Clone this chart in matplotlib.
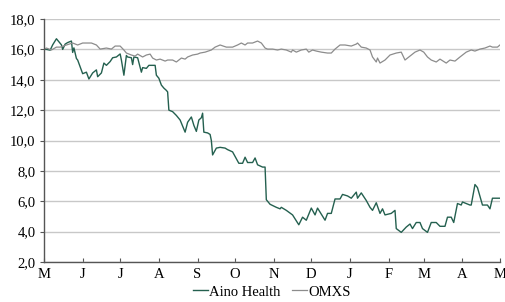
import numpy as np
import pandas as pd
import matplotlib
matplotlib.use("Agg")
import matplotlib.pyplot as plt
import matplotlib.dates as mdates
from matplotlib.ticker import FuncFormatter

start = pd.Timestamp("2022-05-01")
end = pd.Timestamp("2023-05-01")

# days after start, share price
aino_days = [0, 2, 5, 7, 10, 14, 15, 17, 19, 22, 23, 24, 26, 27, 29, 31, 34, 36, 39, 42,
             43, 46, 48, 50, 53, 55, 58, 61, 62, 64, 66, 67, 70, 71, 72, 75, 78, 79, 82, 84,
             89, 90, 92, 94, 96, 98, 99, 100, 103, 106, 109, 110, 113, 115, 118, 120, 122, 124, 126, 127,
             128, 131, 133, 134, 135, 138, 141, 145, 147, 151, 156, 159, 161, 163, 167, 169, 171, 175, 177, 178,
             181, 186, 189, 190, 194, 199, 204, 207, 210, 214, 217, 219, 225, 227, 230, 233, 237, 239, 243, 246,
             250, 251, 254, 258, 261, 263, 266, 269, 271, 273, 278, 281, 282, 286, 290, 293, 295, 298, 301, 303,
             307, 310, 314, 317, 321, 323, 326, 328, 331, 334, 335, 341, 342, 345, 347, 351, 355, 357, 359, 364, 365]
aino = [16.0, 16.0, 15.95, 16.3, 16.7, 16.3, 16.0, 16.35, 16.45, 16.55, 15.8, 16.1, 15.4, 15.3, 14.85, 14.4, 14.5, 14.05, 14.45, 14.65,
        14.2, 14.45, 15.1, 14.95, 15.2, 15.45, 15.5, 15.7, 15.3, 14.3, 15.6, 15.5, 15.45, 15.0, 15.5, 15.45, 14.5, 14.8, 14.75, 14.95,
        14.95, 14.3, 14.1, 13.65, 13.45, 13.3, 13.2, 12.0, 11.9, 11.65, 11.35, 11.15, 10.55, 11.2, 11.55, 11.0, 10.6, 11.35, 11.5, 11.8,
        10.55, 10.5, 10.4, 10.0, 9.05, 9.5, 9.55, 9.5, 9.4, 9.25, 8.5, 8.5, 8.9, 8.55, 8.55, 8.85, 8.4, 8.25, 8.25, 6.1,
        5.8, 5.6, 5.5, 5.6, 5.4, 5.1, 4.45, 4.95, 4.75, 5.55, 5.1, 5.55, 4.75, 5.2, 5.2, 6.15, 6.15, 6.45, 6.35, 6.2,
        6.6, 6.2, 6.55, 6.05, 5.6, 5.4, 5.9, 5.2, 5.5, 5.1, 5.2, 5.4, 4.2, 3.95, 4.3, 4.5, 4.2, 4.6, 4.6, 4.2,
        3.95, 4.6, 4.6, 4.35, 4.35, 4.95, 4.95, 4.6, 5.85, 5.75, 5.95, 5.75, 5.75, 7.1, 6.9, 5.75, 5.75, 5.5, 6.2, 6.2, 6.2]

omxs_days = [0, 2, 6, 10, 13, 18, 23, 27, 31, 34, 38, 42, 45, 50, 54, 57, 61, 64, 66, 70,
             73, 75, 79, 82, 85, 87, 90, 93, 97, 99, 103, 106, 110, 113, 115, 119, 123, 125, 129, 134,
             137, 141, 146, 151, 155, 158, 161, 163, 167, 171, 174, 177, 179, 183, 187, 190, 194, 198, 199, 202,
             206, 210, 212, 215, 218, 222, 227, 230, 233, 237, 241, 246, 250, 251, 254, 258, 261, 263, 266, 267,
             269, 273, 277, 282, 286, 289, 293, 297, 301, 304, 307, 310, 314, 317, 322, 325, 329, 333, 338, 342,
             345, 349, 353, 357, 359, 363, 365]
omxs = [16.0, 16.09, 15.96, 16.15, 16.15, 16.29, 16.42, 16.29, 16.42, 16.42, 16.42, 16.29, 16.02, 16.09, 16.02, 16.22, 16.22, 15.96, 15.76, 15.63,
        15.56, 15.69, 15.5, 15.63, 15.69, 15.43, 15.3, 15.36, 15.23, 15.3, 15.3, 15.17, 15.43, 15.36, 15.5, 15.63, 15.69, 15.76, 15.82, 15.96,
        16.15, 16.29, 16.15, 16.15, 16.29, 16.42, 16.29, 16.42, 16.42, 16.55, 16.42, 16.09, 16.02, 16.02, 15.96, 16.02, 15.96, 15.82, 15.96, 15.82,
        15.96, 16.02, 15.82, 15.96, 15.89, 15.82, 15.76, 15.76, 16.02, 16.29, 16.29, 16.22, 16.35, 16.42, 16.15, 16.09, 15.96, 15.5, 15.17, 15.43,
        15.1, 15.3, 15.63, 15.76, 15.82, 15.3, 15.56, 15.82, 15.96, 15.82, 15.5, 15.3, 15.17, 15.36, 15.1, 15.3, 15.23, 15.5, 15.82, 15.96,
        15.89, 16.02, 16.09, 16.22, 16.15, 16.15, 16.29]

yticks = [2, 4, 6, 8, 10, 12, 14, 16, 18]

plt.rcParams['font.family'] = ['Liberation Serif', 'DejaVu Serif']

fig = plt.figure(figsize=(5.05, 3.02), dpi=100)
ax = fig.add_axes([0.087, 0.1325, 0.903, 0.8045])

aino_dates = start + pd.to_timedelta(aino_days, unit="D")
omxs_dates = start + pd.to_timedelta(omxs_days, unit="D")

ax.plot(aino_dates, aino, color='#24604f', lw=1.0, label='Aino Health')
ax.plot(omxs_dates, omxs, color='#8c8c8c', lw=0.9, label='OMXS')

ax.set_xlim(start, end)
ax.set_ylim(2, 18)
ax.set_yticks(yticks)
ax.yaxis.set_major_formatter(FuncFormatter(lambda v, p: f"{v:.1f}".replace('.', ',')))
ax.xaxis.set_major_locator(mdates.MonthLocator())
ax.xaxis.set_major_formatter(FuncFormatter(lambda v, p: mdates.num2date(v).strftime('%b')[0]))

ax.grid(axis='y', color='#c8c8c8', lw=1.0)
ax.set_axisbelow(True)
for s in ['top', 'right']:
    ax.spines[s].set_visible(False)
for s in ['left', 'bottom']:
    ax.spines[s].set_color('#555555')
    ax.spines[s].set_linewidth(1.0)
ax.tick_params(axis='y', direction='out', length=3, color='#555555', labelsize=10.5, pad=3)
ax.tick_params(axis='x', direction='in', length=3, color='#555555', labelsize=10.5, pad=4)

ax.legend(loc='upper center', bbox_to_anchor=(0.5, -0.06), ncol=2, frameon=False,
          fontsize=10.5, handlelength=1.0, handletextpad=0.1, columnspacing=0.8,
          borderpad=0.1)

fig.savefig('out.png', dpi=100)
